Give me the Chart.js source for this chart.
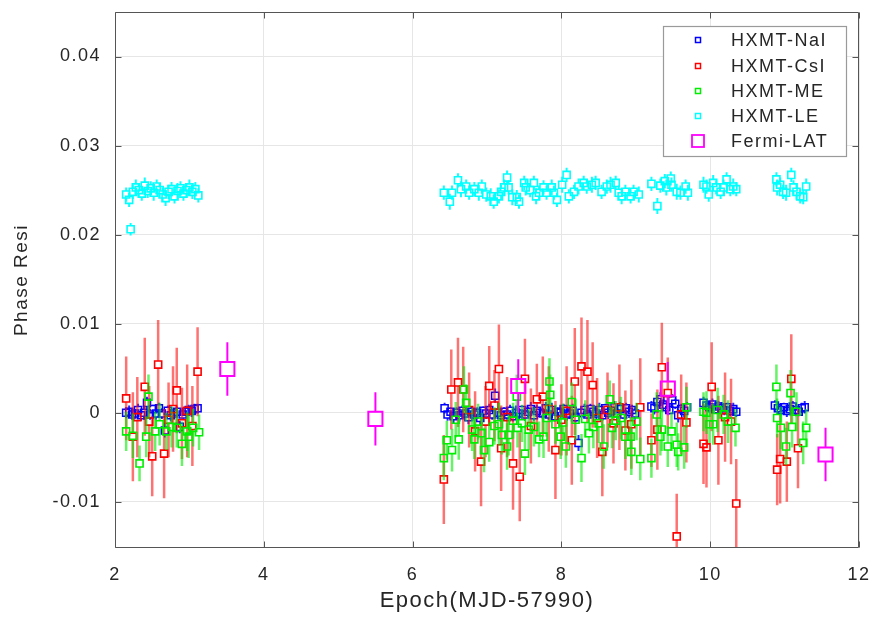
<!DOCTYPE html>
<html><head><meta charset="utf-8">
<script src="https://cdn.jsdelivr.net/npm/chart.js@4.4.1/dist/chart.umd.min.js"></script>
<style>html,body{margin:0;padding:0;background:#fff}canvas{display:block}</style>
</head><body>
<canvas id="c" width="877" height="617"></canvas>
<script>
// ---------- data ----------
const seriesNames = ['HXMT-NaI','HXMT-CsI','HXMT-ME','HXMT-LE','Fermi-LAT'];
const xTicks = [2,4,6,8,10,12];
const yTicks = [-0.01,0,0.01,0.02,0.03,0.04];

const naiX = [2.15,2.19,2.23,2.27,2.31,2.35,2.39,2.43,2.47,2.51,2.55,2.59,2.63,2.67,2.71,2.75,2.79,2.83,2.87,2.91,2.95,2.99,3.03,3.07,3.11,
  6.43,6.47,6.51,6.55,6.59,6.63,6.67,6.71,6.75,6.79,6.83,6.87,6.91,6.95,6.99,7.03,7.07,7.11,7.15,7.19,7.23,7.27,7.31,7.35,7.39,7.43,7.47,7.51,7.55,7.59,
  7.63,7.67,7.71,7.75,7.79,7.83,7.87,7.91,7.95,7.99,8.03,8.07,8.11,8.15,8.19,8.23,8.27,8.31,8.35,8.39,8.43,8.47,8.51,8.55,8.59,8.63,8.67,8.71,8.75,8.79,
  8.83,8.87,8.91,8.95,8.99,
  9.21,9.25,9.29,9.33,9.37,9.41,9.45,9.49,9.53,9.57,9.61,9.65,9.69,
  9.91,9.95,9.99,10.03,10.07,10.11,10.15,10.19,10.23,10.27,10.31,10.35,
  10.87,10.91,10.95,10.99,11.03,11.07,11.11,11.15,11.19,11.23,11.27];
const naiY = [0.0000,0.0001,-0.0002,-0.0001,0.0003,-0.0003,0.0000,0.0011,-0.0002,0.0004,-0.0001,0.0005,-0.0001,-0.0020,0.0002,-0.0003,-0.0001,0.0001,-0.0016,-0.0002,0.0001,0.0003,0.0002,0.0004,0.0005,
  0.0005,-0.0002,0.0001,-0.0004,0.0000,-0.0003,0.0002,-0.0001,-0.0005,0.0001,-0.0002,0.0000,-0.0006,0.0002,-0.0001,0.0003,-0.0002,0.0019,0.0000,-0.0003,
  0.0001,-0.0002,0.0002,-0.0004,0.0000,-0.0001,0.0003,-0.0002,0.0001,0.0004,-0.0003,0.0002,0.0000,-0.0001,0.0005,-0.0002,0.0003,-0.0004,0.0001,0.0000,
  0.0004,-0.0002,-0.0001,0.0002,-0.0005,-0.0034,0.0000,0.0003,-0.0002,0.0004,0.0001,-0.0001,0.0003,-0.0003,0.0005,0.0000,0.0002,0.0006,-0.0001,0.0004,
  -0.0002,0.0005,0.0001,0.0003,-0.0001,
  0.0007,0.0005,0.0012,0.0015,0.0009,0.0006,0.0003,0.0014,0.0010,-0.0003,0.0004,0.0002,0.0006,
  0.0011,0.0008,0.0006,0.0009,0.0004,0.0007,0.0005,0.0003,0.0006,0.0002,0.0004,0.0001,
  0.0008,0.0005,0.0003,0.0006,0.0002,0.0004,0.0007,0.0003,0.0001,0.0005,0.0006];
const naiErr = [0.0006,0.0007,0.0006,0.0005,0.0007,0.0006,0.0008,0.0007,0.0006,0.0005,0.0007,0.0006,0.0006,0.0008,0.0006,0.0007,0.0005,0.0006,0.0007,0.0006,0.0005,0.0006,0.0007,0.0006,0.0005,
  0.0006,0.0007,0.0005,0.0008,0.0006,0.0007,0.0006,0.0005,0.0008,0.0006,0.0007,0.0006,0.0008,0.0005,0.0006,0.0007,0.0006,0.0008,0.0006,0.0007,
  0.0005,0.0006,0.0007,0.0006,0.0008,0.0006,0.0005,0.0007,0.0006,0.0008,0.0006,0.0007,0.0005,0.0006,0.0007,0.0006,0.0008,0.0006,0.0005,0.0007,
  0.0006,0.0007,0.0006,0.0008,0.0006,0.0009,0.0006,0.0007,0.0005,0.0006,0.0007,0.0006,0.0008,0.0006,0.0005,0.0007,0.0006,0.0007,0.0006,0.0008,
  0.0005,0.0006,0.0007,0.0006,0.0007,
  0.0006,0.0007,0.0006,0.0008,0.0006,0.0007,0.0005,0.0007,0.0006,0.0008,0.0006,0.0007,0.0006,
  0.0007,0.0006,0.0006,0.0007,0.0005,0.0006,0.0007,0.0006,0.0005,0.0006,0.0007,0.0006,
  0.0006,0.0007,0.0006,0.0005,0.0007,0.0006,0.0006,0.0007,0.0005,0.0006,0.0007];

const csiX = [2.15,2.24,2.30,2.40,2.46,2.50,2.58,2.66,2.72,2.78,2.83,2.90,2.97,3.04,3.11,
  6.42,6.52,6.61,6.68,6.76,6.84,6.92,6.98,7.03,7.10,7.16,7.19,7.27,7.35,7.44,7.51,7.59,7.67,7.75,7.83,7.92,8.00,8.07,8.14,8.18,8.27,8.35,8.42,8.48,8.55,8.62,8.70,8.78,8.86,8.94,9.06,
  9.21,9.29,9.35,9.43,9.55,9.61,9.68,
  9.91,9.95,10.02,10.11,10.20,10.28,10.35,
  10.90,10.94,11.03,11.09,11.18];
const csiY = [0.0016,-0.0027,-0.0005,0.0029,-0.0010,-0.0049,0.0054,-0.0046,-0.0008,0.0004,0.0025,-0.0012,0.0002,-0.0015,0.0046,
  -0.0075,0.0026,0.0034,0.0026,0.0003,-0.0021,-0.0055,-0.0010,0.0030,0.0008,0.0049,-0.0040,-0.0005,-0.0057,-0.0072,0.0038,-0.0015,0.0015,0.0018,0.0004,
  -0.0042,-0.0008,0.0002,-0.0031,0.0035,0.0052,0.0046,0.0031,-0.0006,-0.0044,0.0003,-0.0012,0.0006,-0.0020,-0.0013,0.0006,
  -0.0031,-0.0019,0.0051,0.0022,-0.0139,-0.0002,-0.0011,
  -0.0035,-0.0039,0.0029,-0.0031,-0.0005,-0.0010,-0.0102,
  -0.0064,-0.0052,-0.0055,0.0038,-0.0040];
const csiErr = [0.0047,0.0050,0.0045,0.0055,0.0040,0.0045,0.0050,0.0050,0.0042,0.0048,0.0048,0.0040,0.0052,0.0045,0.0050,
  0.0050,0.0045,0.0050,0.0048,0.0042,0.0045,0.0050,0.0040,0.0045,0.0040,0.0050,0.0048,0.0045,0.0052,0.0050,0.0045,0.0042,0.0040,0.0045,0.0048,
  0.0055,0.0040,0.0050,0.0050,0.0060,0.0055,0.0058,0.0048,0.0045,0.0050,0.0042,0.0045,0.0048,0.0045,0.0050,0.0055,
  0.0030,0.0045,0.0050,0.0040,0.0048,0.0045,0.0045,
  0.0045,0.0045,0.0050,0.0050,0.0050,0.0048,0.0050,
  0.0040,0.0050,0.0045,0.0050,0.0045];

const meX = [2.15,2.24,2.33,2.42,2.45,2.54,2.60,2.69,2.76,2.83,2.90,2.97,2.99,3.05,3.13,
  6.42,6.46,6.53,6.58,6.62,6.69,6.72,6.80,6.83,6.88,6.93,6.96,7.03,7.10,7.16,7.20,7.27,7.29,7.35,7.40,7.41,7.47,7.51,7.56,7.63,7.70,7.76,7.80,7.84,7.85,
  7.92,7.99,8.02,8.06,8.14,8.19,8.27,8.32,8.37,8.43,8.50,8.57,8.65,8.68,8.73,8.80,8.86,8.93,8.94,9.01,9.06,
  9.21,9.28,9.33,9.35,9.43,9.48,9.55,9.57,9.65,9.68,
  9.91,9.95,9.99,10.04,10.10,10.18,10.24,10.34,
  10.89,10.90,10.95,11.02,11.08,11.10,11.16,11.25,11.29];
const meY = [-0.0021,-0.0026,-0.0057,-0.0027,0.0018,-0.0021,-0.0013,-0.0021,-0.0016,-0.0017,-0.0035,-0.0021,-0.0027,-0.0017,-0.0022,
  -0.0051,-0.0031,-0.0042,-0.0008,-0.0030,0.0026,0.0011,-0.0019,-0.0030,-0.0010,-0.0023,-0.0042,-0.0033,-0.0015,-0.0013,-0.0025,-0.0038,-0.0025,-0.0009,0.0018,
  -0.0017,-0.0012,-0.0046,-0.0019,-0.0016,-0.0030,-0.0027,-0.0006,0.0035,0.0020,
  -0.0013,-0.0027,-0.0011,-0.0038,0.0012,-0.0008,-0.0051,-0.0007,-0.0023,-0.0016,-0.0012,-0.0038,0.0015,-0.0017,-0.0009,-0.0006,-0.0027,-0.0027,-0.0044,-0.0010,-0.0052,
  -0.0051,-0.0002,-0.0027,-0.0019,-0.0038,-0.0021,-0.0036,-0.0044,-0.0039,0.0006,
  0.0001,0.0000,-0.0013,-0.0013,0.0003,-0.0002,-0.0010,-0.0017,
  0.0029,-0.0006,-0.0017,-0.0038,0.0022,-0.0016,0.0001,-0.0034,-0.0017];
const meErr = [0.0022,0.0025,0.0020,0.0023,0.0025,0.0022,0.0024,0.0021,0.0023,0.0022,0.0025,0.0022,0.0024,0.0021,0.0020,
  0.0025,0.0022,0.0024,0.0020,0.0023,0.0026,0.0021,0.0024,0.0022,0.0020,0.0023,0.0025,0.0022,0.0021,0.0024,0.0022,0.0026,0.0023,0.0020,0.0025,
  0.0022,0.0021,0.0024,0.0023,0.0022,0.0020,0.0024,0.0021,0.0026,0.0023,
  0.0022,0.0025,0.0021,0.0024,0.0022,0.0023,0.0027,0.0021,0.0023,0.0024,0.0022,0.0025,0.0021,0.0023,0.0022,0.0024,0.0025,0.0022,0.0026,0.0021,0.0024,
  0.0022,0.0025,0.0021,0.0024,0.0023,0.0022,0.0025,0.0021,0.0024,0.0023,
  0.0022,0.0024,0.0021,0.0023,0.0025,0.0022,0.0024,0.0021,
  0.0025,0.0022,0.0024,0.0021,0.0026,0.0023,0.0022,0.0024,0.0021];

const leX = [2.15,2.19,2.21,2.24,2.28,2.32,2.36,2.40,2.44,2.48,2.52,2.56,2.60,2.64,2.68,2.72,2.76,2.80,2.84,2.88,2.92,2.96,3.00,3.04,3.08,3.12,
  6.42,6.50,6.53,6.61,6.65,6.72,6.76,6.83,6.89,6.93,6.99,7.05,7.09,7.16,7.19,7.23,7.27,7.29,7.34,7.40,7.43,7.50,7.52,7.58,7.63,7.66,7.70,7.76,7.80,
  7.87,7.90,7.94,8.01,8.07,8.10,8.17,8.23,8.30,8.34,8.41,8.46,8.54,8.61,8.66,8.73,8.77,8.81,8.86,8.93,8.97,9.04,
  9.21,9.29,9.33,9.39,9.41,9.47,9.48,9.55,9.60,9.67,9.70,
  9.91,9.95,9.98,10.04,10.08,10.14,10.18,10.22,10.27,10.31,10.35,
  10.89,10.90,10.94,10.98,11.02,11.09,11.12,11.16,11.21,11.25,11.29];
const leY = [0.0245,0.0239,0.0206,0.0248,0.0253,0.0250,0.0246,0.0255,0.0249,0.0252,0.0247,0.0254,0.0250,0.0245,0.0241,0.0248,0.0251,0.0243,0.0249,0.0252,0.0246,0.0250,0.0253,0.0248,0.0251,0.0244,
  0.0247,0.0237,0.0247,0.0261,0.0251,0.0254,0.0247,0.0251,0.0247,0.0254,0.0245,0.0243,0.0237,0.0243,0.0248,0.0253,0.0264,0.0253,0.0242,0.0242,0.0237,0.0258,0.0253,0.0250,0.0258,0.0243,0.0247,0.0253,0.0247,
  0.0253,0.0247,0.0239,0.0256,0.0267,0.0243,0.0248,0.0254,0.0258,0.0254,0.0256,0.0258,0.0248,0.0254,0.0256,0.0258,0.0247,0.0243,0.0248,0.0243,0.0248,0.0245,
  0.0257,0.0232,0.0255,0.0260,0.0253,0.0263,0.0256,0.0248,0.0247,0.0254,0.0247,
  0.0256,0.0254,0.0245,0.0258,0.0253,0.0248,0.0253,0.0262,0.0251,0.0254,0.0251,
  0.0262,0.0253,0.0256,0.0248,0.0247,0.0267,0.0253,0.0248,0.0243,0.0242,0.0254];
const leErr = [0.0008,0.0008,0.0007,0.0008,0.0009,0.0008,0.0008,0.0009,0.0008,0.0008,0.0009,0.0008,0.0008,0.0008,0.0009,0.0008,0.0008,0.0008,0.0009,0.0008,0.0008,0.0008,0.0009,0.0008,0.0008,0.0008,
  0.0008,0.0009,0.0008,0.0008,0.0009,0.0008,0.0008,0.0008,0.0009,0.0008,0.0008,0.0009,0.0008,0.0008,0.0008,0.0009,0.0008,0.0008,0.0009,0.0008,0.0008,0.0008,0.0009,0.0008,0.0008,0.0009,0.0008,0.0008,0.0008,
  0.0009,0.0008,0.0008,0.0009,0.0008,0.0008,0.0008,0.0009,0.0008,0.0008,0.0009,0.0008,0.0008,0.0008,0.0009,0.0008,0.0008,0.0009,0.0008,0.0008,0.0008,0.0009,
  0.0008,0.0009,0.0008,0.0008,0.0009,0.0008,0.0008,0.0009,0.0008,0.0008,0.0009,
  0.0009,0.0008,0.0008,0.0009,0.0008,0.0008,0.0009,0.0008,0.0008,0.0009,0.0008,
  0.0008,0.0009,0.0008,0.0008,0.0009,0.0008,0.0008,0.0009,0.0008,0.0008,0.0009];

const latX = [3.51,5.50,7.42,9.43,11.55];
const latY = [0.0049,-0.0007,0.0030,0.0027,-0.0047];
const latErr = [0.0030,0.0030,0.0030,0.0030,0.0030];

// ---------- helpers ----------
const FONT = '"Liberation Sans", Arial, Helvetica, sans-serif';
const TXT = '#262626';
function pts(xs, ys){ return xs.map((x,i)=>({x:x, y:ys[i]})); }

function mk(label, xs, ys, errs, color, errColor, errWidth, radius, bw, order){
  return {label:label, data:pts(xs,ys), errors:errs, errColor:errColor, errWidth:errWidth,
    pointStyle:'rect', pointRadius:radius, pointHoverRadius:radius, borderColor:color,
    backgroundColor:'rgba(0,0,0,0)', borderWidth:bw, pointBorderWidth:bw, order:order};
}

const spacingPlugin = {
  id:'spacing',
  beforeUpdate(chart){ chart.ctx.letterSpacing='1.5px'; },
  beforeLayout(chart){ chart.ctx.letterSpacing='1.5px'; },
  beforeDraw(chart){ chart.ctx.letterSpacing='1.5px'; }
};

const errorBarPlugin = {
  id:'errbars',
  beforeDatasetDraw(chart, args){
    const ds = chart.data.datasets[args.index];
    if(!ds.errors) return;
    const xs = chart.scales.x, ys = chart.scales.y, a = chart.chartArea, ctx = chart.ctx;
    const gap = ds.pointRadius * Math.SQRT1_2;
    ctx.save();
    ctx.beginPath(); ctx.rect(a.left, a.top, a.right-a.left, a.bottom-a.top); ctx.clip();
    ctx.strokeStyle = ds.errColor; ctx.lineWidth = ds.errWidth; ctx.lineCap='butt';
    ds.data.forEach((p,i)=>{
      const e = ds.errors[i] || 0;
      const px = xs.getPixelForValue(p.x), py = ys.getPixelForValue(p.y);
      const top = ys.getPixelForValue(p.y+e), bot = ys.getPixelForValue(p.y-e);
      ctx.beginPath();
      if (py-gap > top){ ctx.moveTo(px, top); ctx.lineTo(px, py-gap); }
      if (bot > py+gap){ ctx.moveTo(px, py+gap); ctx.lineTo(px, bot); }
      ctx.stroke();
    });
    ctx.restore();
  }
};

const framePlugin = {
  id:'frame',
  afterDatasetsDraw(chart){
    const a = chart.chartArea, ctx = chart.ctx, xs = chart.scales.x, ys = chart.scales.y;
    ctx.save();
    ctx.strokeStyle = '#555555'; ctx.lineWidth = 1;
    const L = Math.round(a.left)+0.5, R = Math.round(a.right)-0.5, T = Math.round(a.top)+0.5, B = Math.round(a.bottom)-0.5;
    ctx.beginPath(); ctx.moveTo(L,T); ctx.lineTo(R,T); ctx.lineTo(R,B); ctx.lineTo(L,B); ctx.closePath(); ctx.stroke();
    const tl = 6;
    ctx.beginPath();
    xTicks.forEach(v=>{ const px = Math.round(xs.getPixelForValue(v))+0.5;
      ctx.moveTo(px,B); ctx.lineTo(px,B-tl); ctx.moveTo(px,T); ctx.lineTo(px,T+tl); });
    yTicks.forEach(v=>{ const py = Math.round(ys.getPixelForValue(v))+0.5;
      ctx.moveTo(L,py); ctx.lineTo(L+tl,py); ctx.moveTo(R,py); ctx.lineTo(R-tl,py); });
    ctx.stroke();
    ctx.restore();
  },
  afterDraw(chart){
    const ctx = chart.ctx;
    const ds = chart.data.datasets;
    ctx.save();
    const bx = 663.5, by = 26.5, bw = 183, bh = 130;
    ctx.fillStyle = '#ffffff'; ctx.fillRect(bx, by, bw, bh);
    ctx.strokeStyle = '#9a9a9a'; ctx.lineWidth = 1.2; ctx.strokeRect(bx, by, bw, bh);
    const rows = [40, 66, 91, 116, 141];
    ctx.font = '18px ' + FONT; ctx.fillStyle = TXT; ctx.textBaseline = 'middle'; ctx.textAlign = 'left';
    ctx.letterSpacing = '1.5px';
    seriesNames.forEach((name, i)=>{
      const d = ds.find(s=>s.label===name);
      const y = rows[i];
      const side = name === 'Fermi-LAT' ? 12 : 5;
      ctx.strokeStyle = d.borderColor; ctx.lineWidth = name === 'Fermi-LAT' ? 1.8 : 1.5;
      ctx.strokeRect(698 - side/2, y - side/2, side, side);
      ctx.fillText(name, 731, y + 1);
    });
    ctx.restore();
  }
};

const datasets = [
  mk('HXMT-NaI', naiX, naiY, naiErr, '#0000ff', 'rgba(0,0,255,0.85)', 2, 5, 1.5, 5),
  mk('HXMT-CsI', csiX, csiY, csiErr, '#ff0000', 'rgba(255,20,20,0.6)', 2.5, 5, 1.6, 4),
  mk('HXMT-ME',  meX,  meY,  meErr,  '#00ee00', 'rgba(0,235,0,0.6)', 2.5, 5, 1.6, 3),
  mk('HXMT-LE',  leX,  leY,  leErr,  '#00ffff', 'rgba(0,255,255,0.95)', 2, 5, 1.6, 2),
  mk('Fermi-LAT', latX, latY, latErr, '#ff00ff', '#ff00ff', 2, 10, 2, 1)
];

new Chart(document.getElementById('c'), {
  type:'scatter',
  data:{datasets:datasets},
  plugins:[spacingPlugin, errorBarPlugin, framePlugin],
  options:{
    responsive:false, animation:false, events:[],
    layout:{padding:{top:12, right:18, bottom:0, left:0}},
    plugins:{legend:{display:false}, tooltip:{enabled:false}},
    scales:{
      x:{type:'linear', position:'bottom', min:2, max:12,
        afterBuildTicks(s){ s.ticks = xTicks.map(v=>({value:v})); },
        ticks:{stepSize:2, padding:16, color:TXT, font:{family:FONT, size:18}, maxRotation:0},
        grid:{color:'#e6e6e6', lineWidth:1, drawTicks:false},
        border:{display:false},
        title:{display:true, text:'Epoch(MJD-57990)', color:TXT, font:{family:FONT, size:22}, padding:3},
        afterFit(s){ s.height = 69; s.paddingLeft = 0; s.paddingRight = 0; }
      },
      y:{type:'linear', min:-0.0152, max:0.045,
        afterBuildTicks(s){ s.ticks = yTicks.map(v=>({value:v})); },
        ticks:{padding:14, color:TXT, font:{family:FONT, size:18},
          callback:(v)=>{ const r = Math.round(v*100)/100; return r===0 ? '0' : String(r); }},
        grid:{color:'#e6e6e6', lineWidth:1, drawTicks:false},
        border:{display:false},
        title:{display:true, text:'Phase Resi', color:TXT, font:{family:FONT, size:19}, padding:10},
        afterFit(s){ s.width = 115; s.paddingTop = 0; s.paddingBottom = 0; }
      }
    }
  }
});
</script>
</body></html>
